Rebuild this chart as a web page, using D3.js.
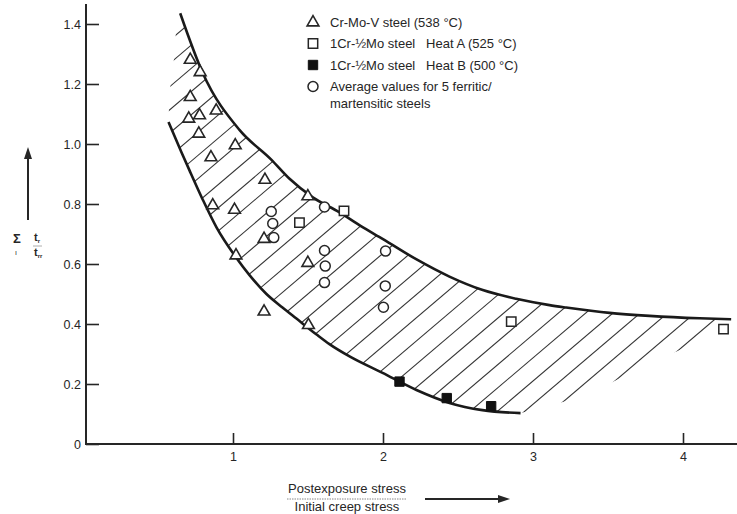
<!DOCTYPE html>
<html><head><meta charset="utf-8">
<script src="https://cdn.jsdelivr.net/npm/d3@7/dist/d3.min.js"></script>
<style>
body{margin:0;background:#fff;}
svg{display:block;font-family:"Liberation Sans",Arial,Helvetica,sans-serif;}
</style></head>
<body><svg id="c" width="737" height="514"></svg>
<script>
// ---- data ----
const xTicks = [1, 2, 3, 4];
const xTickLabels = ["1", "2", "3", "4"];
const yTicks = [0, 0.2, 0.4, 0.6, 0.8, 1.0, 1.2, 1.4];
const yTickLabels = ["0", "0.2", "0.4", "0.6", "0.8", "1.0", "1.2", "1.4"];

const crMoV = [[0.715,1.282],[0.781,1.241],[0.715,1.158],[0.705,1.086],[0.777,1.097],[0.888,1.113],
  [0.772,1.036],[0.853,0.957],[1.015,0.997],[0.865,0.797],[1.010,0.782],[1.213,0.882],[1.499,0.827],
  [1.207,0.685],[1.020,0.630],[1.499,0.605],[1.207,0.443],[1.503,0.398]];
const heatA = [[1.443,0.738],[1.740,0.777],[2.855,0.408],[4.270,0.383]];
const heatB = [[2.110,0.208],[2.425,0.153],[2.721,0.126]];
const avgFM = [[1.255,0.775],[1.265,0.735],[1.272,0.688],[1.610,0.790],[1.610,0.645],[1.615,0.593],
  [1.610,0.538],[2.017,0.643],[2.015,0.527],[2.003,0.456]];

const upperBound = [[0.648,1.436],[0.799,1.236],[1.043,1.047],[1.255,0.948],[1.377,0.884],[1.532,0.822],
  [1.710,0.772],[1.850,0.727],[2.000,0.683],[2.221,0.616],[2.443,0.558],[2.665,0.513],[2.888,0.484],
  [3.110,0.463],[3.221,0.455],[3.510,0.437],[3.777,0.427],[4.110,0.419],[4.321,0.416]];
const lowerBound = [[0.570,1.073],[0.657,0.972],[0.710,0.912],[0.797,0.816],[0.890,0.722],[1.023,0.620],
  [1.110,0.563],[1.223,0.500],[1.330,0.455],[1.423,0.418],[1.557,0.365],[1.643,0.333],[1.777,0.292],
  [1.997,0.237],[2.223,0.180],[2.443,0.137],[2.663,0.113],[2.917,0.103]];
// ragged ends of the hatching beyond the drawn bounds
const hatchLeftEdge = [[0.623,1.50],[0.623,1.407],[0.610,1.297],[0.577,1.173]];
const hatchRightEdge = [[3.063,0.120],[3.357,0.163],[3.730,0.257],[4.110,0.343],[4.321,0.416]];

const legendItems = [
  {sym:"triangle", lines:["Cr-Mo-V steel (538 °C)"]},
  {sym:"square", lines:["1Cr-½Mo steel   Heat A (525 °C)"]},
  {sym:"filled", lines:["1Cr-½Mo steel   Heat B (500 °C)"]},
  {sym:"circle", lines:["Average values for 5 ferritic/", "martensitic steels"]}
];

// ---- drawing ----
const svg = d3.select("#c");
const ink = "#262626";
const x = d3.scaleLinear().domain([1, 4]).range([233, 683]);
const y = d3.scaleLinear().domain([0, 1.4]).range([444, 24]);
const axisX0 = 86;

const line = d3.line().x(d => x(d[0])).y(d => y(d[1])).curve(d3.curveMonotoneX);
const lin = d3.line().x(d => x(d[0])).y(d => y(d[1]));

// clip paths for hatching
const defs = svg.append("defs");
const upPath = line(upperBound);
const last = upperBound[upperBound.length-1];
defs.append("clipPath").attr("id","clipA").append("path")
  .attr("d", upPath + `L${x(4.6)},${y(last[1])}L${x(4.6)},${y(-0.3)}L${x(0.2)},${y(-0.3)}L${x(0.2)},${y(upperBound[0][1])}Z`);
const lowPath = line(lowerBound).replace(/^M/, "L");
defs.append("clipPath").attr("id","clipB").append("path")
  .attr("d", lin(hatchLeftEdge) + lowPath + lin(hatchRightEdge).replace(/^M/, "L") +
    `L${x(4.6)},${y(last[1])}L${x(4.6)},${y(1.6)}Z`);

// hatching (pixel-space generated pattern)
const slope = 0.85, step = 23.2, c0 = 880.5;
const hatchC = d3.range(Math.floor((140 - c0)/step), Math.ceil((1060 - c0)/step) + 1).map(k => c0 + k*step);
svg.append("g").attr("clip-path","url(#clipA)")
  .append("g").attr("clip-path","url(#clipB)")
  .selectAll("line").data(hatchC).join("line")
  .attr("x1", 140).attr("y1", c => c - slope*140)
  .attr("x2", 740).attr("y2", c => c - slope*740)
  .attr("stroke", "#333").attr("stroke-width", 1.1);

// bounding curves
svg.append("path").attr("d", upPath).attr("fill","none").attr("stroke","#1a1a1a").attr("stroke-width",2.6);
svg.append("path").attr("d", line(lowerBound)).attr("fill","none").attr("stroke","#1a1a1a").attr("stroke-width",2.6);

// axes
const yAxis = d3.axisLeft(y).tickValues(yTicks).tickFormat((d,i) => yTickLabels[i]).tickSize(-13).tickPadding(5);
const gy = svg.append("g").attr("transform", `translate(${axisX0},0)`).call(yAxis);
gy.select(".domain").remove();
gy.selectAll("line").attr("stroke", ink).attr("stroke-width", 1.6);
gy.selectAll("text").attr("font-size", 12.5).attr("fill", ink).attr("font-family", null);

const xAxis = d3.axisBottom(x).tickValues(xTicks).tickFormat((d,i) => xTickLabels[i]).tickSize(-11).tickPadding(8);
const gx = svg.append("g").attr("transform", `translate(0,${y(0)})`).call(xAxis);
gx.select(".domain").remove();
gx.selectAll("line").attr("stroke", ink).attr("stroke-width", 1.6);
gx.selectAll("text").attr("font-size", 12.5).attr("fill", ink).attr("font-family", null);

svg.append("line").attr("x1", axisX0).attr("x2", axisX0).attr("y1", y(0)+1).attr("y2", 4)
  .attr("stroke", ink).attr("stroke-width", 2);
svg.append("line").attr("x1", axisX0-1).attr("x2", 737).attr("y1", y(0)).attr("y2", y(0))
  .attr("stroke", ink).attr("stroke-width", 2);

// markers
const tri = d3.symbol().type(d3.symbolTriangle).size(60)();
const sq = d3.symbol().type(d3.symbolSquare).size(88)();
function drawSym(g, type, px, py) {
  if (type === "triangle") g.append("path").attr("d", tri).attr("transform",`translate(${px},${py+0.5})`)
    .attr("fill","#fff").attr("stroke",ink).attr("stroke-width",1.6);
  else if (type === "square") g.append("path").attr("d", sq).attr("transform",`translate(${px},${py})`)
    .attr("fill","#fff").attr("stroke",ink).attr("stroke-width",1.5);
  else if (type === "filled") g.append("path").attr("d", sq).attr("transform",`translate(${px},${py})`)
    .attr("fill","#111").attr("stroke","#111").attr("stroke-width",1);
  else g.append("circle").attr("cx",px).attr("cy",py).attr("r",5)
    .attr("fill","#fff").attr("stroke",ink).attr("stroke-width",1.5);
}
const gm = svg.append("g");
crMoV.forEach(d => drawSym(gm, "triangle", x(d[0]), y(d[1])));
heatA.forEach(d => drawSym(gm, "square", x(d[0]), y(d[1])));
heatB.forEach(d => drawSym(gm, "filled", x(d[0]), y(d[1])));
avgFM.forEach(d => drawSym(gm, "circle", x(d[0]), y(d[1])));

// legend
const lg = svg.append("g");
const rowY = [22, 43.5, 65, 86.5];
legendItems.forEach((it, i) => {
  drawSym(lg, it.sym, 313, rowY[i]);
  it.lines.forEach((t, j) => {
    lg.append("text").attr("x", 330).attr("y", rowY[i] + 4.5 + j*17)
      .attr("font-size", 13).attr("fill", ink).style("white-space","pre").text(t);
  });
});

// y label
const yl = svg.append("g").attr("fill", ink);
yl.append("line").attr("x1",28).attr("x2",28).attr("y1",220).attr("y2",157).attr("stroke",ink).attr("stroke-width",2);
yl.append("path").attr("d","M28,147L24,159L32,159Z");
yl.append("text").attr("x",17).attr("y",243).attr("text-anchor","middle").attr("font-size",13).attr("font-weight","bold").text("Σ");
yl.append("text").attr("x",16).attr("y",255).attr("text-anchor","middle").attr("font-size",7).text("ı");
const t1 = yl.append("text").attr("x",34).attr("y",241).attr("font-size",11).attr("font-weight","bold");
t1.append("tspan").text("t");
t1.append("tspan").attr("font-size",6).attr("dy",2).text("r");
yl.append("line").attr("x1",33).attr("x2",42).attr("y1",246).attr("y2",246).attr("stroke","#999").attr("stroke-width",0.8);
const t2 = yl.append("text").attr("x",34).attr("y",256).attr("font-size",11).attr("font-weight","bold");
t2.append("tspan").text("t");
t2.append("tspan").attr("font-size",6).attr("dy",2).text("rr");

// x label
const xl = svg.append("g").attr("fill", ink);
xl.append("text").attr("x",347).attr("y",493).attr("text-anchor","middle").attr("font-size",13).text("Postexposure stress");
xl.append("line").attr("x1",287).attr("x2",407).attr("y1",499).attr("y2",499).attr("stroke","#888").attr("stroke-width",1).attr("stroke-dasharray","1.5,1");
xl.append("text").attr("x",347).attr("y",511).attr("text-anchor","middle").attr("font-size",13).text("Initial creep stress");
xl.append("line").attr("x1",425).attr("x2",500).attr("y1",499).attr("y2",499).attr("stroke",ink).attr("stroke-width",1.8);
xl.append("path").attr("d","M510,499L498,495L498,503Z");
</script></body></html>
